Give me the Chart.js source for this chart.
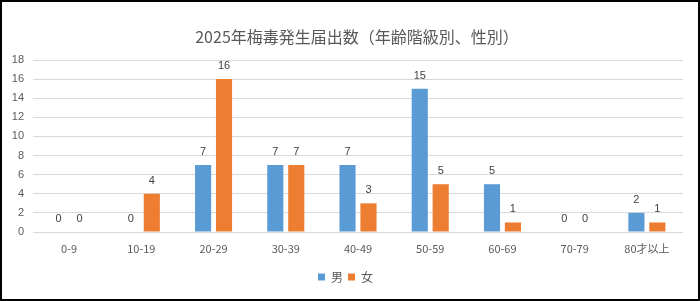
<!DOCTYPE html>
<html>
<head>
<meta charset="utf-8">
<script src="https://cdn.jsdelivr.net/npm/chart.js@4.4.0/dist/chart.umd.min.js"></script>
<style>
    html, body { margin: 0; padding: 0; background: #fff; }
    #wrap { width: 700px; height: 301px; }
</style>
</head>
<body>
<div id="wrap"><canvas id="syphilisChart" width="700" height="301"></canvas></div>
<script>
// data
const ageGroups = ['0-9', '10-19', '20-29', '30-39', '40-49', '50-59', '60-69', '70-79', '80才以上'];
const maleCounts = [0, 0, 7, 7, 7, 15, 5, 0, 2];
const femaleCounts = [0, 4, 16, 7, 3, 5, 1, 0, 1];
const yMax = 18;
const yStep = 2;
const chartTitle = '2025年梅毒発生届出数（年齢階級別、性別）';

const textGray = '#595959';

// black frame round the picture
const framePlugin = {
    id: 'frame',
    afterDraw(chart) {
        const ctx = chart.ctx;
        ctx.save();
        ctx.strokeStyle = '#000';
        ctx.lineWidth = 2;
        ctx.strokeRect(1, 1, chart.width - 2, chart.height - 2);
        ctx.restore();
    }
};

// title drawn a bit right of centre, like the excel original
const titlePlugin = {
    id: 'excelTitle',
    afterDraw(chart) {
        const ctx = chart.ctx;
        ctx.save();
        ctx.font = '16px "Noto Sans CJK JP"';
        ctx.fillStyle = textGray;
        ctx.textAlign = 'center';
        ctx.textBaseline = 'middle';
        ctx.fillText(chartTitle, 357, 37);
        ctx.restore();
    }
};

// numbers above bars
const valueLabels = {
    id: 'valueLabels',
    afterDatasetsDraw(chart) {
        const ctx = chart.ctx;
        ctx.save();
        ctx.font = '11px "Liberation Sans"';
        ctx.fillStyle = '#404040';
        ctx.textAlign = 'center';
        ctx.textBaseline = 'middle';
        chart.data.datasets.forEach((ds, i) => {
            chart.getDatasetMeta(i).data.forEach((bar, j) => {
                ctx.fillText(ds.data[j], bar.x, bar.y - 13);
            });
        });
        ctx.restore();
    }
};

const ctx = document.getElementById('syphilisChart');

new Chart(ctx, {
    type: 'bar',
    data: {
        labels: ageGroups,
        datasets: [
            {
                label: '男',
                data: maleCounts,
                backgroundColor: '#5B9BD5',
                categoryPercentage: 0.58,
                barPercentage: 0.77
            },
            {
                label: '女',
                data: femaleCounts,
                backgroundColor: '#ED7D31',
                categoryPercentage: 0.58,
                barPercentage: 0.77
            }
        ]
    },
    options: {
        responsive: false,
        animation: false,
        layout: { padding: { left: 8, right: 17, top: 60, bottom: 8 } },
        plugins: {
            title: { display: false },
            legend: {
                position: 'bottom',
                labels: {
                    boxWidth: 7,
                    boxHeight: 7,
                    color: textGray,
                    padding: 5,
                    font: { family: '"Noto Sans CJK JP"', size: 12 }
                }
            },
            tooltip: { enabled: false }
        },
        scales: {
            x: {
                grid: { display: false, drawTicks: false },
                border: { display: false },
                ticks: {
                    color: textGray,
                    padding: 10,
                    font: { family: '"Noto Sans CJK JP"', size: 11 }
                },
                afterFit: function (scale) {
                    scale.height = 34;
                }
            },
            y: {
                min: 0,
                max: yMax,
                ticks: {
                    stepSize: yStep,
                    color: textGray,
                    padding: 9,
                    font: { family: '"Liberation Sans"', size: 11 }
                },
                grid: { color: '#d9d9d9', drawTicks: false },
                border: { display: false },
                afterFit: function (scale) {
                    scale.width = 25;
                }
            }
        }
    },
    plugins: [framePlugin, titlePlugin, valueLabels]
});
</script>
</body>
</html>
